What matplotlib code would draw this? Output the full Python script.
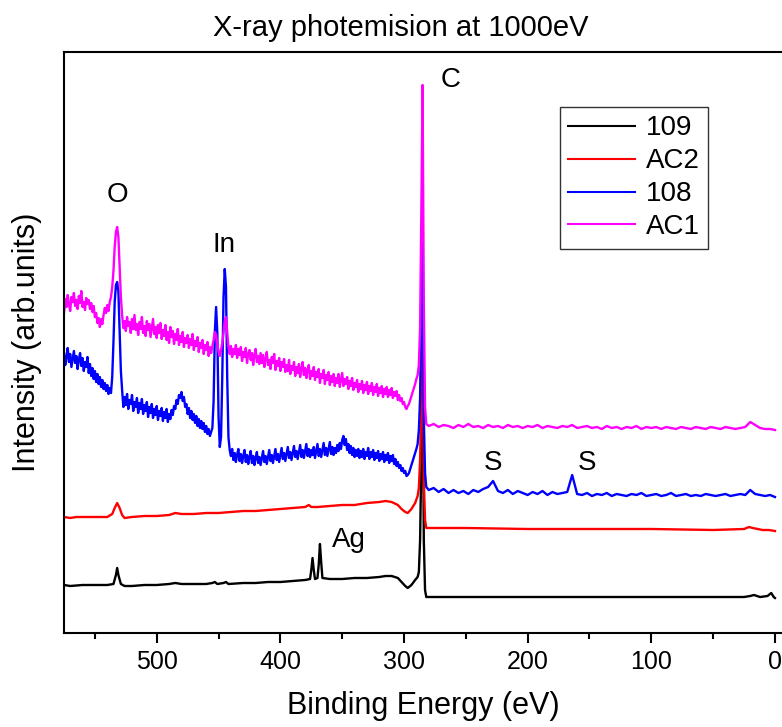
import numpy as np
import matplotlib
matplotlib.use("Agg")
import matplotlib.pyplot as plt
from matplotlib.ticker import MultipleLocator

plt.rcParams['font.family'] = ['Liberation Sans', 'DejaVu Sans']

# --- data (binding energy in eV, intensity in arb. units) ---
labels = ['109', 'AC2', '108', 'AC1']
colors = ['black', 'red', 'blue', 'magenta']

e_109 = [575, 570, 560, 550, 540, 535, 533, 532, 531, 529, 526, 520, 510, 500, 490, 485, 480,
         470, 460, 455, 453, 451, 446, 444, 442, 430, 420, 410, 400, 390, 380, 376, 375, 374,
         373, 372, 370, 369, 368, 367, 366, 360, 350, 340, 330, 320, 315, 310, 305, 302, 299,
         297, 294, 291, 289, 288, 287, 286, 285.5, 285, 284.6, 284, 283, 282, 270, 250, 200,
         150, 100, 50, 25, 20, 17, 12, 6, 3, 1, 0]
i_109 = [48, 47, 48, 48, 48, 49, 58, 65, 58, 49, 47, 47, 48, 48, 49, 50, 49,
         49, 49, 50, 51, 49, 50, 51, 49, 50, 50, 51, 51, 52, 53, 54, 63, 75,
         63, 54, 55, 68, 89, 71, 55, 54, 54, 55, 55, 56, 57, 57, 55, 51, 47,
         45, 48, 53, 56, 61, 93, 173, 230, 288, 213, 93, 43, 36, 36, 36, 36,
         36, 36, 36, 36, 37, 38, 36, 37, 40, 36, 35]

e_ac2 = [575, 570, 565, 560, 550, 540, 536, 534, 532, 530, 528, 526, 520, 510, 500, 490, 485,
         480, 470, 460, 450, 440, 430, 420, 410, 400, 390, 380, 377, 375, 370, 360, 350, 340,
         330, 320, 315, 310, 305, 302, 299, 297, 294, 291, 289, 288, 287, 286, 285.5, 285,
         284.6, 284, 283, 282, 270, 250, 200, 150, 100, 50, 25, 21, 18, 10, 5, 0]
i_ac2 = [116, 115, 116, 116, 116, 116, 119, 125, 130, 125, 118, 115, 116, 117, 117, 118, 120,
         119, 119, 120, 120, 121, 122, 122, 123, 124, 125, 126, 128, 126, 126, 127, 128, 128,
         130, 131, 132, 131, 128, 124, 121, 120, 124, 130, 137, 145, 173, 233, 280, 313,
         253, 153, 113, 105, 105, 105, 104, 104, 104, 103, 104, 106, 105, 103, 103, 102]

# noisy samples 108 and AC1: 1 eV steps from 575 to 283 eV, then 282 eV, then 4 eV steps to 0
e_noisy = np.concatenate([np.arange(575, 282, -1), [282], np.arange(280, -1, -4)])

i_108 = [
    280, 268, 276, 285, 271, 279, 266, 274, 282, 270, 277, 264, 273, 280, 267, 275, 262, 271, 266, 276,  # 575
    260, 269, 257, 265, 254, 262, 251, 259, 249, 256, 246, 253, 244, 250, 242, 248, 239, 245, 240, 256,  # 555
    291, 331, 348, 351, 341, 300, 262, 243, 226, 236, 228, 239, 224, 233, 229, 238, 222, 231, 226, 235,  # 535
    220, 230, 224, 234, 219, 228, 222, 231, 216, 226, 220, 229, 215, 224, 218, 227, 213, 222, 217, 225,  # 515
    212, 221, 215, 224, 211, 219, 214, 223, 218, 227, 224, 233, 229, 238, 235, 241, 232, 236, 226, 229,  # 495
    219, 225, 215, 222, 213, 219, 210, 217, 207, 214, 205, 212, 204, 210, 201, 207, 199, 204, 197, 201,  # 475
    205, 232, 301, 326, 300, 216, 186, 196, 256, 335, 364, 346, 256, 196, 183, 177, 184, 173, 180, 171,  # 455
    178, 184, 172, 179, 170, 177, 183, 171, 178, 169, 176, 182, 170, 177, 168, 175, 181, 170, 176, 168,  # 435
    175, 182, 171, 177, 169, 176, 183, 172, 178, 170, 177, 184, 173, 179, 171, 178, 185, 174, 180, 172,  # 415
    179, 186, 175, 181, 173, 180, 187, 176, 182, 174, 181, 188, 176, 183, 175, 182, 189, 177, 184, 176,  # 395
    183, 178, 186, 175, 182, 189, 177, 184, 176, 183, 190, 178, 185, 177, 184, 191, 179, 186, 178, 185,  # 375
    180, 188, 182, 190, 184, 193, 197, 188, 194, 183, 189, 180, 187, 178, 185, 176, 183, 177, 184, 175,  # 355
    182, 176, 184, 174, 181, 177, 185, 174, 181, 176, 183, 173, 180, 175, 182, 172, 179, 174, 181, 171,  # 335
    178, 173, 180, 170, 177, 172, 178, 169, 174, 167, 171, 165, 168, 162, 165, 160, 162, 157, 158, 160,  # 315
    164, 168, 172, 176, 180, 184, 189, 203, 235, 330, 390, 215, 160,                                      # 295
    146,                                                                                                  # 282
    143, 145, 141, 144, 140, 143, 140, 142, 139, 143, 141, 144, 146, 152, 142, 140, 143, 139, 142, 140,  # 280
    138, 141, 139, 142, 138, 141, 139, 140, 141, 158, 139, 138, 140, 137, 139, 138, 140, 137, 139, 138,  # 200
    137, 139, 138, 140, 137, 138, 139, 137, 138, 140, 137, 138, 139, 137, 138, 137, 139, 138, 137, 138,  # 120
    139, 137, 138, 139, 138, 143, 139, 138, 137, 138, 136]                                                # 40

i_ac1 = [
    320, 334, 326, 338, 329, 322, 336, 331, 340, 327, 333, 324, 337, 330, 342, 326, 331, 323, 335, 329,  # 575
    333, 324, 330, 321, 327, 316, 320, 310, 315, 306, 314, 309, 318, 325, 320, 328, 322, 331, 336, 346,  # 555
    362, 386, 401, 406, 396, 366, 336, 318, 305, 312, 302, 316, 307, 311, 300, 314, 304, 318, 303, 309,  # 535
    298, 311, 304, 316, 300, 307, 297, 312, 303, 309, 296, 305, 314, 299, 306, 295, 308, 300, 310, 294,  # 515
    303, 297, 308, 293, 301, 290, 306, 296, 302, 289, 299, 293, 304, 288, 297, 291, 301, 286, 295, 290,  # 495
    298, 285, 294, 288, 299, 283, 292, 287, 296, 281, 290, 285, 293, 279, 288, 283, 291, 277, 286, 280,  # 475
    287, 293, 301, 298, 289, 281, 277, 283, 290, 300, 312, 316, 301, 286, 279, 287, 276, 284, 279, 288,  # 455
    275, 284, 278, 286, 272, 281, 276, 285, 270, 279, 283, 273, 280, 268, 278, 284, 271, 277, 269, 280,  # 435
    270, 278, 266, 274, 281, 268, 273, 264, 276, 270, 279, 263, 272, 267, 275, 262, 271, 266, 274, 261,  # 415
    268, 262, 273, 259, 267, 263, 271, 257, 266, 260, 269, 256, 264, 271, 258, 265, 255, 263, 268, 254,  # 395
    262, 257, 266, 253, 261, 256, 264, 250, 259, 255, 263, 249, 258, 253, 261, 248, 257, 251, 259, 247,  # 375
    255, 250, 259, 246, 253, 260, 247, 254, 249, 256, 244, 252, 247, 255, 243, 250, 246, 253, 241, 249,  # 355
    244, 252, 240, 248, 243, 251, 239, 247, 242, 250, 238, 246, 241, 249, 237, 245, 240, 247, 236, 244,  # 335
    239, 246, 236, 243, 238, 245, 235, 241, 237, 242, 233, 238, 232, 235, 229, 231, 226, 224, 227, 229,  # 315
    233, 237, 241, 245, 249, 254, 258, 268, 305, 420, 548, 330, 226,                                      # 295
    209,                                                                                                  # 282
    207, 209, 206, 208, 207, 205, 208, 206, 209, 206, 207, 205, 208, 206, 207, 205, 208, 206, 207, 205,  # 280
    207, 206, 208, 205, 207, 206, 205, 207, 206, 208, 205, 206, 207, 205, 206, 204, 207, 205, 206, 204,  # 200
    206, 205, 207, 204, 206, 205, 206, 204, 206, 205, 204, 206, 205, 204, 206, 205, 204, 206, 205, 204,  # 120
    206, 205, 204, 205, 206, 211, 208, 205, 204, 204, 203]                                                # 40

energies = [e_109, e_ac2, e_noisy, e_noisy]
intensities = [i_109, i_ac2, i_108, i_ac1]

# peak assignments: (text, energy, height)
peak_names = ['O', 'In', 'C', 'S', 'S', 'Ag']
peak_energy = [532, 446, 262, 228, 152, 345]
peak_height = [438, 388, 553, 170, 170, 93]

# --- figure ---
fig = plt.figure(figsize=(7.82, 7.27), dpi=100)
W, H = 782, 727
ax = fig.add_axes([64 / W, (H - 633) / H, (W - 64) / W, (633 - 52) / H])

for e, i, c, lab in zip(energies, intensities, colors, labels):
    ax.plot(e, i, color=c, linewidth=1.7, label=lab)

for name, e, h in zip(peak_names, peak_energy, peak_height):
    ax.text(e, h, name, fontsize=20, ha='center', va='center')

ax.set_xlim(575, -5.7)
ax.set_ylim(0, 581)
ax.set_yticks([])
ax.xaxis.set_major_locator(MultipleLocator(100))
ax.xaxis.set_minor_locator(MultipleLocator(50))
ax.tick_params(axis='x', which='major', direction='out', length=7.5, width=1.5,
               labelsize=18, pad=5)
ax.tick_params(axis='x', which='minor', direction='out', length=4, width=1.5)
for side in ['left', 'bottom', 'top']:
    ax.spines[side].set_linewidth(1.5)
ax.spines['right'].set_visible(False)

ax.set_xlabel('Binding Energy (eV)', fontsize=22, labelpad=12)
ax.set_ylabel('Intensity (arb.units)', fontsize=22, labelpad=16)
fig.text(401 / W, 1 - 28 / H, 'X-ray photemision at 1000eV', fontsize=21,
         ha='center', va='center')

leg = ax.legend(loc='upper left', bbox_to_anchor=((560 - 64) / (W - 64), 1 - (107 - 52) / (633 - 52)),
                fontsize=20, frameon=True, fancybox=False, edgecolor='black',
                handlelength=2.4, labelspacing=0.25, borderpad=0.3, handletextpad=0.4,
                borderaxespad=0)
leg.get_frame().set_linewidth(1.0)
for line in leg.get_lines():
    line.set_linewidth(1.5)

fig.savefig('out.png', dpi=100)
